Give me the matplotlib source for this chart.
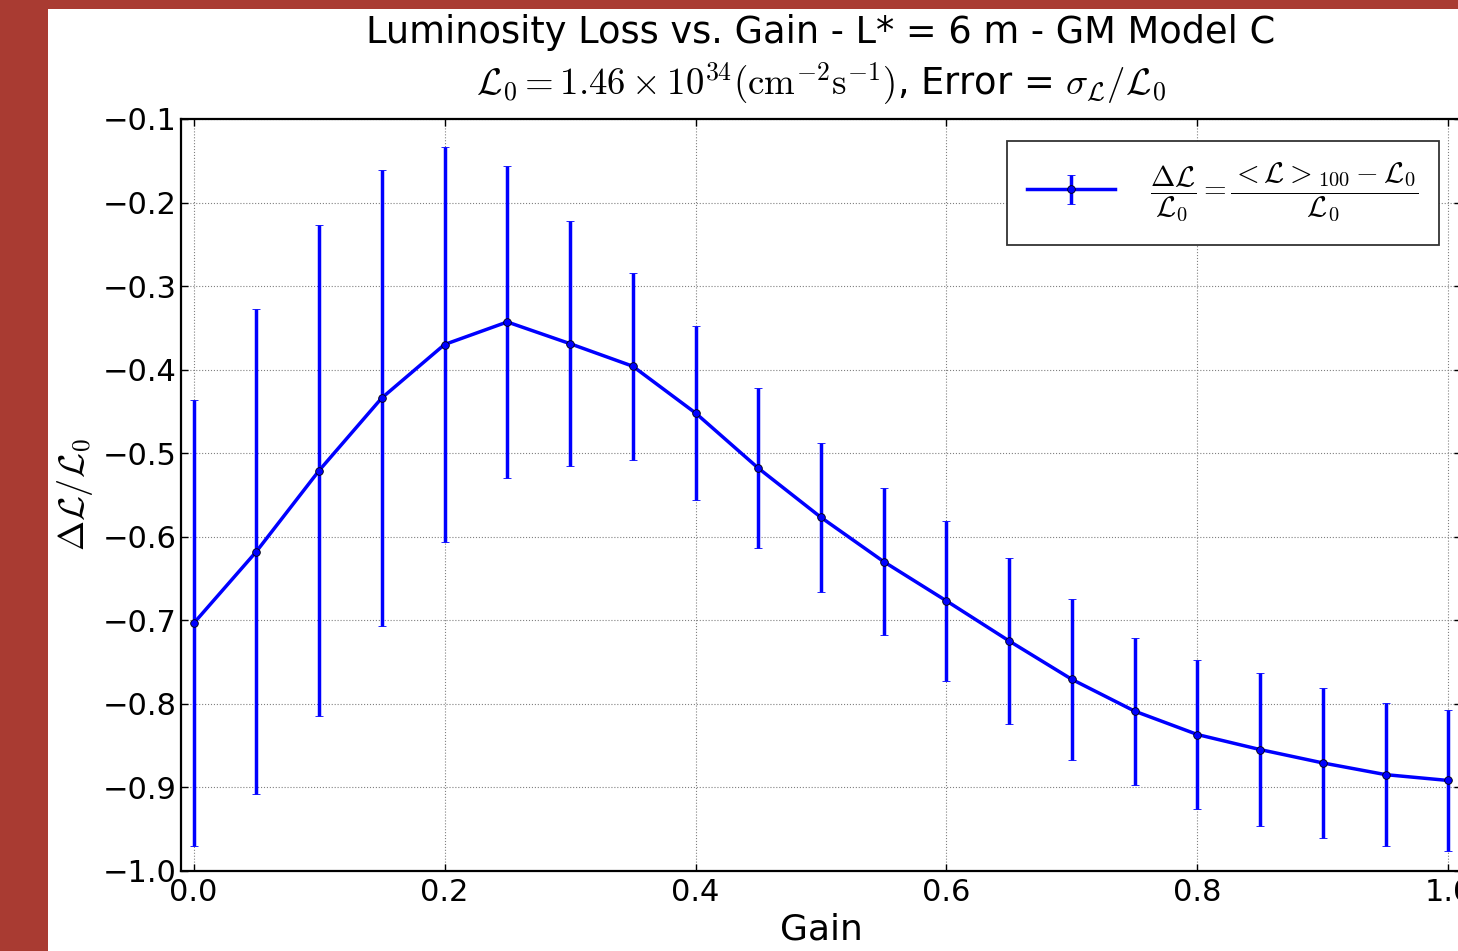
import matplotlib
matplotlib.use("Agg")
import matplotlib.pyplot as plt
from matplotlib.patches import Rectangle
import numpy as np

# ---- data ----
gain = [0.00, 0.05, 0.10, 0.15, 0.20, 0.25, 0.30, 0.35, 0.40, 0.45, 0.50,
        0.55, 0.60, 0.65, 0.70, 0.75, 0.80, 0.85, 0.90, 0.95, 1.00]
lum_loss = [-0.704, -0.618, -0.521, -0.434, -0.370, -0.343, -0.369, -0.396,
            -0.452, -0.518, -0.577, -0.630, -0.677, -0.725, -0.771, -0.809,
            -0.837, -0.855, -0.871, -0.885, -0.892]
lum_err = [0.267, 0.290, 0.294, 0.273, 0.236, 0.187, 0.147, 0.112, 0.104,
           0.096, 0.089, 0.088, 0.096, 0.099, 0.096, 0.088, 0.089, 0.092,
           0.090, 0.086, 0.085]
xticks = [0.0, 0.2, 0.4, 0.6, 0.8, 1.0]
yticks = [-1.0, -0.9, -0.8, -0.7, -0.6, -0.5, -0.4, -0.3, -0.2, -0.1]

title_line1 = "Luminosity Loss vs. Gain - L* = 6 m - GM Model C"
title_line2 = (r"$\mathcal{L}_0 = 1.46\times 10^{34}(\mathrm{cm}^{-2}\mathrm{s}^{-1})$"
               r", Error = $\sigma_\mathcal{L}/\mathcal{L}_0$")
legend_label = (r"$\dfrac{\Delta\mathcal{L}}{\mathcal{L}_0} = "
                r"\dfrac{<\mathcal{L}>_{100} - \mathcal{L}_0}{\mathcal{L}_0}$")

plt.rcParams['mathtext.fontset'] = 'cm'
plt.rcParams['font.family'] = ['DejaVu Sans']

W, H = 1458, 951
fig = plt.figure(figsize=(W / 100, H / 100), dpi=100)
fig.patch.set_facecolor('#A93B32')
fig.add_artist(Rectangle((48 / W, 0), 1, (H - 9) / H, transform=fig.transFigure,
                         facecolor='white', edgecolor='none', zorder=-5))

left = 181 / W
bottom = (H - 870.7) / H
top = (H - 119) / H
width = 1280 / W
ax = fig.add_axes([left, bottom, width, top - bottom])

ax.errorbar(gain, lum_loss, yerr=lum_err, fmt='-o', color='b', lw=2.5,
            elinewidth=2.5, ms=5.5, mec='k', mew=0.6, mfc='b',
            capsize=2.8, capthick=1.2, ecolor='b', label=legend_label)

ax.set_xlim(-0.01, 1.01)
ax.set_ylim(-1.0, -0.1)
ax.set_xticks(xticks)
ax.set_yticks(yticks)
ax.tick_params(direction='in', labelsize=22, top=True, right=True,
               length=5, width=1)
ax.tick_params(axis='y', pad=3)
ax.tick_params(axis='x', pad=5)
ax.grid(True, color='0.5', linestyle=':', linewidth=0.8)
for s in ax.spines.values():
    s.set_linewidth(1.6)

ax.set_xlabel("Gain", fontsize=26, labelpad=4)
ax.set_ylabel(r"$\Delta\mathcal{L}/\mathcal{L}_0$", fontsize=26, labelpad=6)
ax.set_title(title_line1 + "\n" + title_line2, fontsize=26.5, pad=17,
             linespacing=1.3)

leg = ax.legend(loc='upper right', fontsize=21, fancybox=False, framealpha=1,
                edgecolor='0.2', handlelength=3.0, borderaxespad=0.75,
                borderpad=0.7, handletextpad=1.2)
leg.get_frame().set_linewidth(1.3)

fig.savefig("out.png", dpi=100, facecolor=fig.get_facecolor())
